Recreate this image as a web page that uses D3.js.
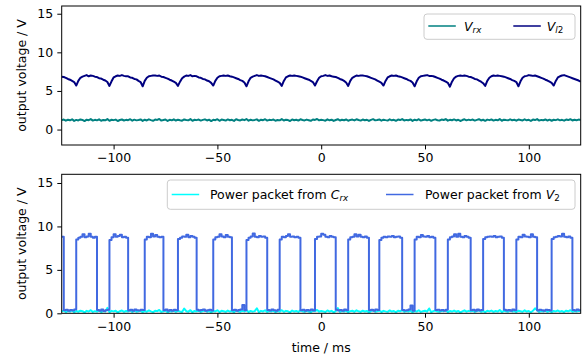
<!DOCTYPE html>
<html><head><meta charset="utf-8">
<script src="https://cdn.jsdelivr.net/npm/d3@7"></script>
<style>
body{margin:0;background:#fff}
svg{display:block}
text{font-family:"DejaVu Sans",sans-serif}
</style>
</head><body>
<svg id="c" width="584" height="360"></svg>
<script>
// ---- data (sampled every 1 ms from -125 ms to 125 ms) ----
const tStart = -125, tEnd = 125;
const xTicks = [-100, -50, 0, 50, 100];
const yTicks = [0, 5, 10, 15];
const xDomain = [-125, 125];
const yDomainTop = [-2, 16];
const yDomainBottom = [0, 16];

const vl2 = [
6.85,6.8,6.7,6.55,6.45,6.3,6.15,
5.7,6.3,6.7,6.85,6.95,7.05,6.9,7.0,6.95,6.85,6.8,6.65,6.6,6.45,6.35,6.15,
5.65,6.25,6.75,6.9,7.0,6.95,7.05,6.95,6.9,6.9,6.75,6.7,6.55,6.5,6.3,6.15,
5.6,6.3,6.7,6.9,6.95,7.0,7.0,6.95,7.0,6.85,6.8,6.7,6.6,6.45,6.35,6.2,6.05,
5.65,6.2,6.65,6.85,7.0,6.95,7.05,6.9,6.95,6.9,6.75,6.7,6.55,6.5,6.35,6.25,6.05,
5.7,6.3,6.7,6.9,6.95,7.0,6.95,7.0,6.9,6.85,6.75,6.65,6.55,6.4,6.3,6.1,
5.6,6.25,6.7,6.85,6.95,7.05,6.95,7.0,6.95,6.9,6.8,6.7,6.6,6.5,6.35,6.2,6.05,
5.65,6.3,6.75,6.9,7.0,6.95,7.0,6.95,6.9,6.85,6.75,6.65,6.55,6.45,6.3,6.15,
5.7,6.25,6.7,6.9,6.95,7.05,6.95,7.0,6.9,6.85,6.8,6.7,6.55,6.45,6.3,6.1,
5.65,6.3,6.7,6.85,7.0,6.95,7.0,7.0,6.95,6.9,6.8,6.7,6.6,6.5,6.35,6.2,6.05,
5.7,6.3,6.75,6.9,7.0,6.95,7.0,6.9,6.85,6.75,6.65,6.55,6.4,6.3,6.1,
5.6,6.25,6.7,6.9,6.95,7.0,7.05,6.95,6.95,6.9,6.8,6.7,6.6,6.45,6.35,6.2,6.05,
5.55,6.2,6.65,6.85,6.95,7.0,6.95,7.0,6.95,6.85,6.8,6.7,6.55,6.5,6.35,6.2,6.0,
5.65,6.3,6.7,6.9,7.0,6.95,7.0,6.95,6.9,6.85,6.75,6.65,6.55,6.4,6.3,6.15,
5.6,6.25,6.7,6.9,6.95,7.05,7.0,6.95,7.0,6.9,6.8,6.7,6.6,6.45,6.35,6.2,6.05,
5.7,6.3,6.75,6.9,7.0,7.05,6.95,6.85,6.75,6.65,6.55,6.45,6.35,6.2
];

const vrx = [
1.22,1.30,1.15,1.27,1.20,1.33,1.12,1.25,1.18,1.31,1.24,1.10,1.28,1.21,1.35,1.16,1.26,1.19,1.32,1.14,
1.25,1.20,1.36,1.13,1.27,1.22,1.29,1.11,1.24,1.30,1.17,1.26,1.21,1.34,1.15,1.28,1.19,1.23,1.31,1.12,
1.27,1.18,1.32,1.22,1.14,1.29,1.25,1.37,1.16,1.23,1.30,1.11,1.26,1.20,1.33,1.17,1.28,1.21,1.15,1.31,
1.24,1.19,1.35,1.13,1.27,1.22,1.30,1.16,1.25,1.32,1.18,1.28,1.10,1.26,1.21,1.34,1.14,1.29,1.23,1.17,
1.31,1.20,1.26,1.12,1.33,1.24,1.18,1.30,1.22,1.36,1.15,1.27,1.19,1.25,1.32,1.13,1.28,1.21,1.34,1.16,
1.26,1.22,1.30,1.14,1.25,1.19,1.35,1.17,1.28,1.23,1.11,1.31,1.20,1.27,1.16,1.33,1.24,1.18,1.29,1.21,
1.13,1.30,1.25,1.37,1.19,1.26,1.22,1.15,1.32,1.20,1.28,1.12,1.24,1.34,1.17,1.27,1.21,1.31,1.14,1.25,
1.29,1.18,1.33,1.23,1.16,1.30,1.21,1.27,1.11,1.26,1.35,1.19,1.24,1.31,1.15,1.28,1.22,1.17,1.32,1.20,
1.26,1.14,1.29,1.23,1.36,1.18,1.25,1.21,1.31,1.12,1.27,1.20,1.34,1.16,1.24,1.30,1.19,1.28,1.13,1.25,
1.32,1.21,1.17,1.29,1.24,1.35,1.15,1.26,1.20,1.31,1.18,1.27,1.11,1.23,1.33,1.19,1.28,1.22,1.30,1.16,
1.25,1.34,1.18,1.27,1.13,1.29,1.22,1.31,1.17,1.26,1.20,1.36,1.14,1.28,1.23,1.19,1.32,1.21,1.27,1.15,
1.30,1.24,1.18,1.33,1.20,1.26,1.12,1.29,1.23,1.35,1.16,1.25,1.21,1.31,1.17,1.28,1.14,1.27,1.22,1.32,
1.19,1.26,1.15,1.30,1.23,1.34,1.18,1.27,1.21,1.29,1.24
];

const v2 = [
8.8,
0.35,0.42,0.28,0.38,0.31,0.45,
8.5,8.7,8.8,9.1,8.75,8.85,9.15,8.8,8.7,8.8,
0.38,0.30,0.44,0.27,0.36,0.41,
8.45,8.75,9.1,8.8,8.9,9.05,8.75,8.8,8.7,
0.33,0.40,0.29,0.45,0.35,0.31,0.42,0.37,
8.5,8.8,8.75,9.15,8.85,9.0,8.8,8.75,8.8,
0.36,0.43,0.30,0.39,0.28,0.41,0.34,
8.55,8.7,8.85,8.8,9.05,8.75,8.9,8.8,8.7,
0.40,0.31,0.37,0.44,0.29,0.35,0.42,0.33,
8.5,8.75,8.8,9.1,8.85,8.75,9.0,8.8,8.75,
0.34,0.41,0.29,0.38,0.45,0.95,0.36,
8.45,8.7,8.85,9.2,8.8,8.75,8.9,8.8,8.85,8.7,
0.39,0.31,0.43,0.35,0.28,0.40,
8.5,8.8,8.75,8.9,9.1,8.8,8.85,8.75,8.8,8.7,
0.36,0.42,0.30,0.38,0.33,0.44,0.31,
8.55,8.8,8.85,9.15,9.05,8.8,8.75,8.9,8.8,8.75,
0.41,0.33,0.37,0.29,0.43,0.35,
8.5,8.75,8.8,9.1,8.85,9.05,8.8,8.75,8.85,8.7,
0.34,0.40,0.30,0.44,0.37,
8.45,8.7,8.8,8.75,8.85,8.8,8.9,8.75,8.8,8.85,8.7,
0.39,0.32,0.36,0.43,0.90,0.30,
8.5,8.8,8.75,9.0,8.85,8.8,8.9,8.75,8.8,8.7,
0.37,0.42,0.31,0.39,0.28,0.41,
8.5,8.75,8.85,9.1,8.8,9.15,8.8,8.75,8.9,8.8,8.7,
0.35,0.40,0.29,0.44,0.33,0.38,
8.55,8.75,8.8,8.85,8.8,8.9,8.75,8.8,8.85,8.7,
0.42,0.31,0.37,0.29,0.43,0.36,
8.5,8.8,8.75,9.05,8.85,8.8,8.75,9.1,8.8,8.75,
0.33,0.40,0.35,0.28,0.42,0.37,0.31,
8.55,8.75,8.8,8.9,8.85,9.15,8.8,8.75,8.85,8.7,
0.38,0.32,0.44,0.36,0.30
];

const crx = [
0.22,0.31,0.15,0.27,0.20,0.35,0.12,0.26,0.18,0.30,0.24,0.10,0.28,0.21,0.36,0.16,0.25,0.19,0.33,0.14,
0.26,0.20,0.62,0.13,0.28,0.22,0.30,0.11,0.24,0.32,0.17,0.27,0.21,0.35,0.15,0.29,0.19,0.23,0.31,0.12,
0.27,0.18,0.33,0.22,0.14,0.29,0.25,0.38,0.16,0.23,0.31,0.11,0.26,0.20,0.34,0.17,0.28,0.21,0.15,0.55,
0.24,0.19,0.36,0.13,0.27,0.22,0.30,0.16,0.25,0.33,0.18,0.28,0.10,0.26,0.21,0.35,0.14,0.29,0.23,0.17,
0.31,0.20,0.26,0.12,0.34,0.24,0.18,0.30,0.22,0.37,0.15,0.27,0.19,0.25,0.58,0.13,0.28,0.21,0.35,0.16,
0.26,0.22,0.30,0.14,0.25,0.19,0.36,0.17,0.28,0.23,0.11,0.32,0.20,0.27,0.16,0.34,0.24,0.18,0.29,0.21,
0.13,0.30,0.25,0.38,0.19,0.26,0.22,0.15,0.33,0.20,0.28,0.12,0.24,0.60,0.17,0.27,0.21,0.31,0.14,0.25,
0.29,0.18,0.34,0.23,0.16,0.30,0.21,0.27,0.11,0.26,0.36,0.19,0.24,0.32,0.15,0.28,0.22,0.17,0.33,0.20,
0.26,0.14,0.29,0.23,0.37,0.18,0.25,0.21,0.31,0.12,0.27,0.20,0.35,0.16,0.24,0.30,0.19,0.56,0.13,0.25,
0.32,0.21,0.17,0.29,0.24,0.36,0.15,0.26,0.20,0.31,0.18,0.27,0.11,0.23,0.34,0.19,0.28,0.22,0.30,0.16,
0.25,0.35,0.18,0.27,0.13,0.29,0.22,0.31,0.17,0.26,0.20,0.37,0.14,0.28,0.23,0.19,0.33,0.21,0.27,0.15,
0.30,0.24,0.18,0.34,0.20,0.26,0.12,0.29,0.57,0.36,0.16,0.25,0.21,0.31,0.17,0.28,0.14,0.27,0.22,0.32,
0.19,0.26,0.15,0.30,0.23,0.35,0.18,0.27,0.21,0.29,0.24
];

const time = d3.range(tStart, tEnd + 1);

// ---- drawing ----
const svg = d3.select('#c');
const FS = 12.5;
const left = 61.7, right = 580.7;
const x = d3.scaleLinear().domain(xDomain).range([left, right]);

const panels = [
  { id: 'top', top: 6, bottom: 145, yDomain: yDomainTop,
    series: [
      { values: vrx, color: '#008080', curve: d3.curveLinear, w: 2 },
      { values: vl2, color: '#000080', curve: d3.curveLinear, w: 2 }
    ],
    legend: { x0: 424, x1: 575, y0: 14, y1: 39.3, ly: 26, base: 30.5,
      items: [
        { color: '#008080', lx: 428.3, tx: 464, label: [['V','i',0],['rx','i',1]] },
        { color: '#000080', lx: 513.3, tx: 546.7, label: [['V','i',0],['l','i',1],['2','n',1]] }
      ] } },
  { id: 'bot', top: 174.3, bottom: 313.3, yDomain: yDomainBottom,
    series: [
      { values: crx, color: '#00ffff', curve: d3.curveLinear, w: 2 },
      { values: v2, color: '#4169e1', curve: d3.curveStepAfter, w: 2 }
    ],
    legend: { x0: 167.3, x1: 575, y0: 180, y1: 209.3, ly: 194.5, base: 198.7,
      items: [
        { color: '#00ffff', lx: 171.7, tx: 210, label: [['Power packet from ','n',0],['C','i',0],['rx','i',1]] },
        { color: '#4169e1', lx: 386, tx: 425, label: [['Power packet from ','n',0],['V','i',0],['2','n',1]] }
      ] } }
];

panels.forEach(p => {
  const y = d3.scaleLinear().domain(p.yDomain).range([p.bottom, p.top]);
  const g = svg.append('g');
  svg.append('clipPath').attr('id', 'clip-' + p.id)
    .append('rect').attr('x', left).attr('y', p.top)
    .attr('width', right - left).attr('height', p.bottom - p.top);

  const plot = g.append('g').attr('clip-path', `url(#clip-${p.id})`);
  p.series.forEach(s => {
    const line = d3.line().x((d, i) => x(time[i])).y(d => y(d)).curve(s.curve);
    plot.append('path').datum(s.values)
      .attr('d', line).attr('fill', 'none')
      .attr('stroke', s.color).attr('stroke-width', s.w)
      .attr('stroke-linejoin', 'round');
  });

  // axes
  const xa = g.append('g').attr('transform', `translate(0,${p.bottom})`)
    .call(d3.axisBottom(x).tickValues(xTicks).tickSize(4.4).tickPadding(4.2));
  const ya = g.append('g').attr('transform', `translate(${left},0)`)
    .call(d3.axisLeft(y).tickValues(yTicks).tickSize(4.4).tickPadding(4.2));
  [xa, ya].forEach(a => {
    a.select('.domain').remove();
    a.selectAll('line').attr('stroke', '#000').attr('stroke-width', 1);
    a.selectAll('text').attr('font-size', FS).attr('fill', '#000')
      .attr('font-family', '"DejaVu Sans", sans-serif');
  });

  // frame
  g.append('rect').attr('x', left).attr('y', p.top)
    .attr('width', right - left).attr('height', p.bottom - p.top)
    .attr('fill', 'none').attr('stroke', '#000').attr('stroke-width', 1);

  // y label
  g.append('text')
    .attr('transform', `translate(25.5,${(p.top + p.bottom) / 2}) rotate(-90)`)
    .attr('text-anchor', 'middle').attr('font-size', FS).attr('fill', '#000')
    .text('output voltage / V');

  // legend
  const L = p.legend;
  const lg = svg.append('g');
  lg.append('rect').attr('x', L.x0).attr('y', L.y0)
    .attr('width', L.x1 - L.x0).attr('height', L.y1 - L.y0)
    .attr('rx', 3).attr('fill', '#fff').attr('fill-opacity', 0.8)
    .attr('stroke', '#cccccc').attr('stroke-width', 1);
  L.items.forEach(it => {
    lg.append('line').attr('x1', it.lx).attr('x2', it.lx + 27.5)
      .attr('y1', L.ly).attr('y2', L.ly)
      .attr('stroke', it.color).attr('stroke-width', 1.5);
    const t = lg.append('text').attr('x', it.tx).attr('y', L.base)
      .attr('font-size', FS).attr('fill', '#000');
    let sub = false;
    it.label.forEach(([s, st, isSub]) => {
      const ts = t.append('tspan').text(s)
        .attr('font-style', st === 'i' ? 'italic' : 'normal');
      if (isSub) {
        ts.attr('font-size', FS * 0.7);
        if (!sub) { ts.attr('dy', 2.6); sub = true; }
      }
    });
  });
});

// x label
svg.append('text').attr('x', x(0)).attr('y', 352)
  .attr('text-anchor', 'middle').attr('font-size', FS).attr('fill', '#000')
  .text('time / ms');
</script>
</body></html>
